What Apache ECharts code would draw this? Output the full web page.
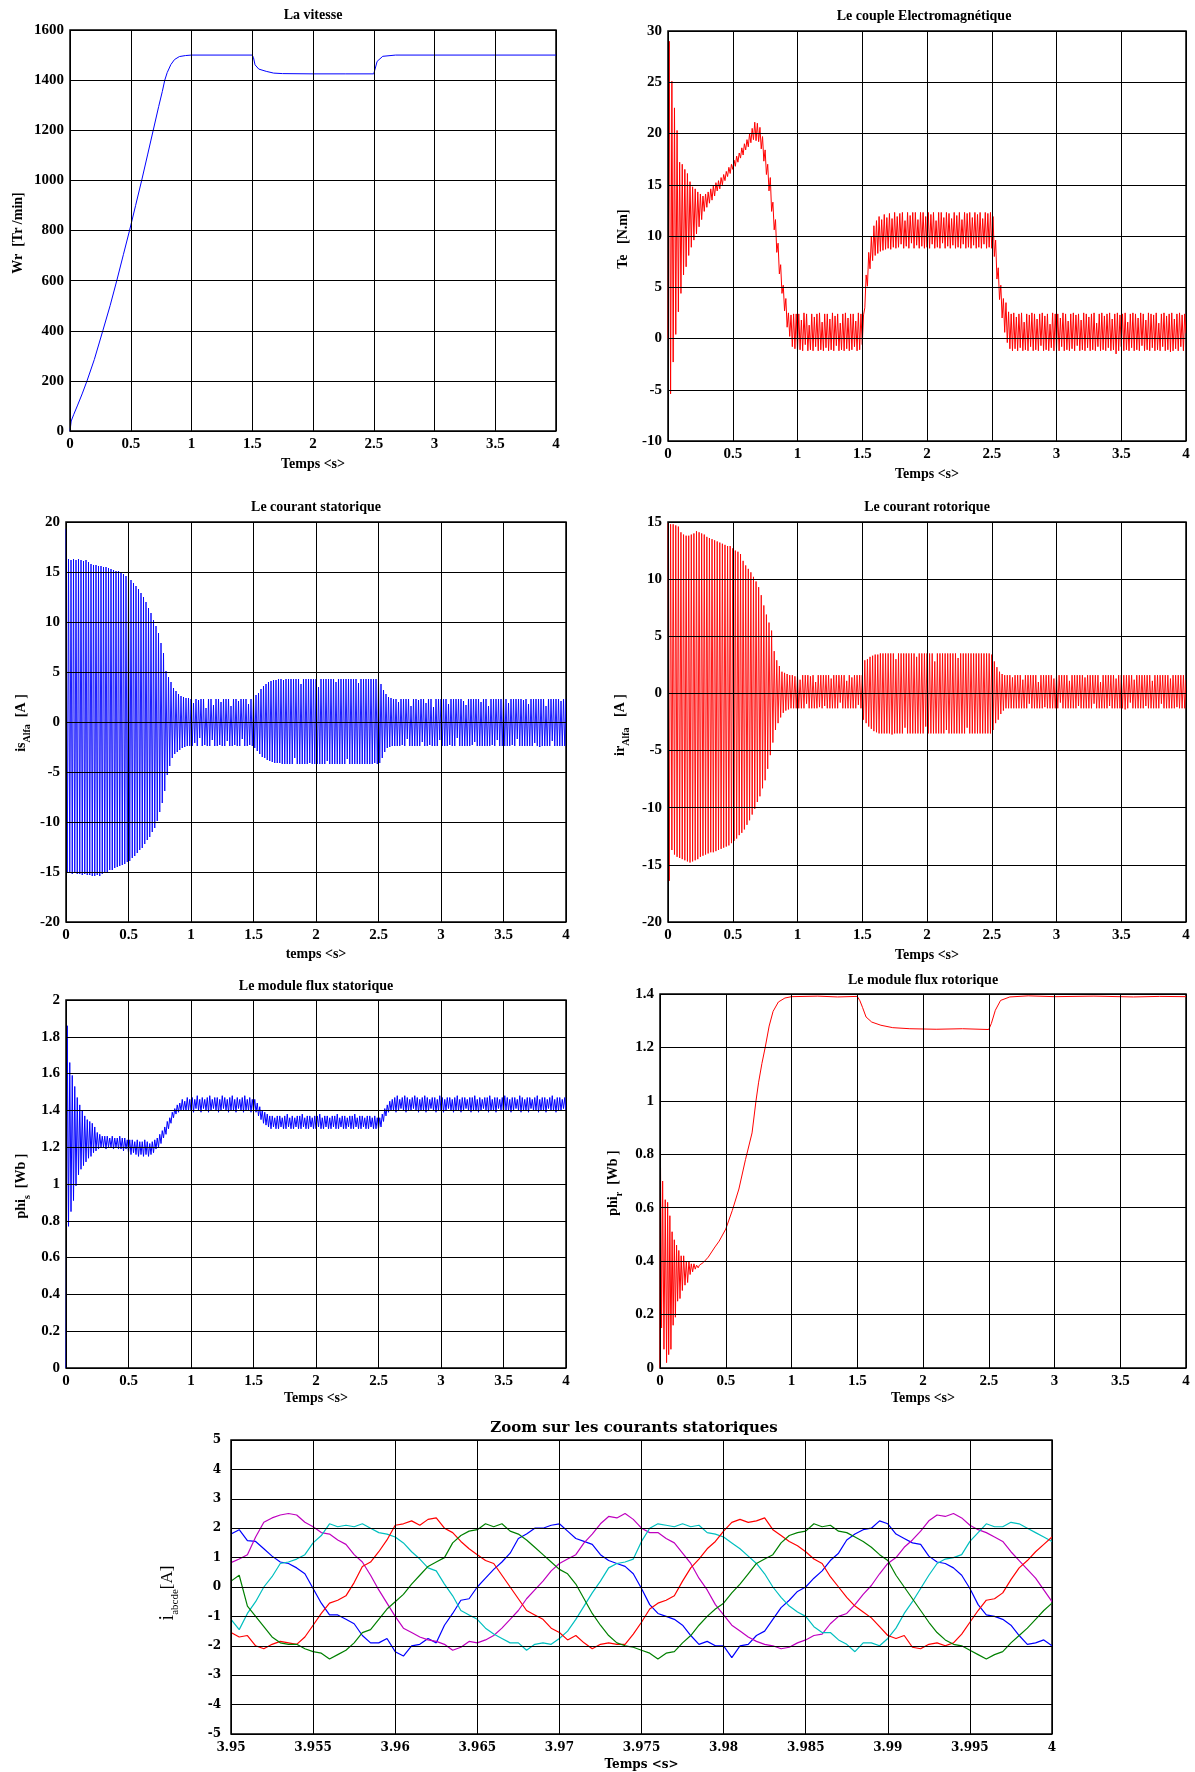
<!DOCTYPE html>
<html><head><meta charset="utf-8">
<script src="https://cdn.jsdelivr.net/npm/echarts/dist/echarts.min.js"></script>
<style>html,body{margin:0;padding:0;background:#fff}#c{width:1195px;height:1772px}</style>
</head><body><div id="c"></div>
<script>
// ---------- DATA ----------
// Speed (Tr/min)
const speedT = [0,0.01,0.03,0.06,0.1,0.14,0.2,0.27,0.33,0.385,0.44,0.49,0.54,0.59,0.64,0.685,0.73,0.76,0.78,0.8,0.83,0.86,0.9,0.95,1.0,1.5,1.51,1.523,1.554,1.615,1.676,1.75,2.0,2.27,2.5,2.505,2.528,2.574,2.68,4.0];
const speedV = [0,40,65,100,148,200,285,400,500,600,705,800,900,1000,1105,1200,1295,1355,1400,1430,1462,1482,1494,1498,1500,1500,1490,1461,1444,1435,1428,1426,1425,1425,1425,1432,1475,1495,1500,1500];

// Sample step of the oscillating traces (s)
const stepOsc = 0.01;

// Electromagnetic torque Te (N.m), alternate low/high peaks every 0.01 s from t=0
const torque = [
0,29.0,-5.4,25.1,-2.3,22.5,0.4,20.3,2.6,17.2,
4.4,17.0,6.2,16.5,7.0,16.1,8.1,15.3,8.9,14.8,
9.6,14.6,10.2,14.3,10.9,14.1,11.6,13.9,12.4,14.1,
12.8,14.3,13.2,14.6,13.5,14.9,13.9,15.2,14.4,15.4,
14.6,15.7,15.0,16.0,15.4,16.3,15.8,16.7,16.1,17.0,
16.5,17.4,16.8,17.8,17.2,18.1,17.6,18.6,17.9,19.0,
18.4,19.4,18.7,20.0,19.1,20.5,19.4,21.1,19.3,21.0,
19.2,20.6,18.5,19.7,17.3,18.4,16.0,17.0,14.4,15.7,
12.4,13.3,10.6,11.6,8.4,9.3,6.3,7.2,4.4,5.2,
2.7,3.9,1.1,2.5,0.2,2.3,-0.8,2.4,-1.0,2.4,
-1.2,2.4,-1.1,1.8,-1.2,2.5,-0.6,2.4,-1.2,1.3,
-1.1,2.4,-1.2,2.1,-0.8,2.4,-1.2,2.5,-1.1,1.6,
-1.2,2.4,-0.9,2.4,-1.2,1.9,-1.1,2.5,-1.2,2.2,
-0.7,2.4,-1.2,1.5,-1.1,2.4,-1.2,2.5,-1.0,2.0,
-1.2,2.4,-1.1,2.4,-0.8,1.7,-1.2,2.5,-1.1,2.4,
-0.6,2.3,3.0,6.2,5.1,8.4,6.8,9.9,7.6,11.0,
8.1,11.5,8.3,11.9,8.5,11.6,8.6,12.1,8.7,11.8,
8.8,12.2,8.7,11.7,8.9,12.3,8.8,11.9,8.9,12.2,
9.2,12.3,8.8,11.5,9.0,12.3,8.8,12.0,9.3,12.3,
8.8,12.3,9.1,11.6,8.8,12.3,9.0,12.3,8.8,11.9,
8.9,12.3,8.8,12.1,9.2,12.3,8.8,11.5,8.9,12.3,
8.8,12.3,9.3,11.8,8.8,12.3,9.0,12.2,8.8,11.7,
9.1,12.3,8.8,12.0,8.9,12.3,8.8,11.6,9.2,12.3,
8.8,12.2,8.9,12.3,8.8,11.8,9.1,12.3,8.8,12.1,
8.9,12.3,8.8,11.7,9.2,12.3,8.8,12.2,8.9,12.3,
8.8,11.9,8.0,9.6,5.8,6.9,3.8,5.2,2.0,3.9,
0.6,3.5,-0.4,2.6,-1.0,2.4,-1.2,2.5,-1.0,2.1,
-1.2,2.4,-0.9,2.5,-1.2,1.6,-1.1,2.4,-1.2,2.3,
-0.8,2.5,-1.2,2.4,-1.1,1.9,-1.2,2.4,-0.7,2.5,
-1.2,2.2,-1.1,2.4,-1.2,1.4,-0.9,2.5,-1.2,2.4,
-1.1,2.4,-1.2,2.0,-0.8,2.5,-1.2,2.4,-1.1,1.7,
-1.2,2.4,-1.0,2.5,-1.2,2.3,-0.7,2.4,-1.2,1.8,
-1.1,2.5,-1.2,2.4,-0.9,2.1,-1.2,2.4,-1.1,2.5,
-1.2,1.5,-0.8,2.4,-1.2,2.5,-1.1,2.2,-1.2,2.4,
-0.9,2.5,-1.2,1.9,-1.1,2.4,-1.5,2.5,-1.2,2.3,
-0.8,2.4,-1.2,2.5,-1.1,1.6,-1.2,2.4,-0.9,2.5,
-1.2,2.4,-1.1,2.0,-1.2,2.5,-0.7,2.4,-1.2,1.8,
-1.1,2.5,-1.2,2.4,-0.9,2.3,-1.2,2.5,-1.1,1.5,
-1.2,2.4,-0.8,2.5,-1.2,2.2,-1.1,2.4,-1.3,2.5,
-1.2,1.9,-1.0,2.4,-1.2,2.5,-0.8,2.3,-1.2,2.4,
0.5];

// Stator current isAlfa (A), alternate +/- peaks every 0.01 s
const isAlfa = [
19.3,-15.1,16.3,-15.1,16.2,-15.2,16.3,-15.1,16.2,-15.2,
16.3,-15.2,16.2,-15.3,16.1,-15.2,16.2,-15.3,16.0,-15.3,
15.8,-15.4,15.7,-15.4,15.7,-15.3,15.6,-15.4,15.6,-15.2,
15.5,-15.0,15.5,-15.0,15.4,-14.8,15.3,-14.8,15.2,-14.6,
15.1,-14.5,15.1,-14.4,15.0,-14.3,14.8,-14.2,14.6,-14.0,
14.4,-13.9,14.2,-13.6,13.9,-13.4,13.6,-13.1,13.3,-12.8,
12.9,-12.6,12.5,-12.2,12.0,-11.8,11.4,-11.5,10.9,-11.0,
10.2,-10.6,9.6,-9.9,8.9,-9.0,7.9,-8.1,6.9,-6.9,
5.1,-5.3,4.5,-4.4,4.0,-3.6,3.4,-3.2,3.1,-3.0,
2.8,-2.8,2.6,-2.6,2.5,-2.5,2.4,-2.4,2.4,-2.4,
2.3,-2.4,1.9,-2.1,2.3,-2.4,2.2,-1.6,2.3,-2.4,
2.3,-2.3,1.4,-2.4,2.3,-2.4,2.3,-1.8,1.7,-2.4,
2.3,-2.4,2.3,-2.3,2.0,-2.4,2.3,-2.4,2.3,-1.9,
2.3,-2.4,1.6,-2.4,2.3,-2.3,2.3,-2.4,2.1,-2.4,
2.3,-1.7,2.3,-2.4,2.3,-2.4,1.8,-2.3,2.3,-2.4,
2.4,-2.6,2.7,-2.9,2.9,-3.2,3.3,-3.5,3.6,-3.6,
3.8,-3.8,4.0,-3.9,4.1,-4.0,4.2,-4.1,4.2,-4.1,
4.3,-4.1,4.3,-4.2,4.2,-4.2,4.3,-4.2,4.3,-4.2,
4.3,-4.2,4.3,-3.6,4.3,-4.2,4.3,-4.2,3.8,-4.2,
4.3,-4.2,4.3,-4.2,4.3,-4.1,4.3,-4.2,4.3,-4.2,
4.3,-4.2,3.5,-4.2,4.3,-4.2,4.3,-4.2,4.3,-3.9,
4.3,-4.2,4.3,-4.2,4.3,-4.2,4.0,-4.2,4.3,-4.2,
4.3,-4.2,4.3,-4.2,4.3,-3.7,4.3,-4.2,4.3,-4.2,
4.3,-4.2,4.3,-4.2,3.9,-4.2,4.3,-4.2,4.3,-4.2,
4.3,-4.2,4.3,-4.2,4.3,-4.2,4.3,-4.1,4.3,-4.2,
4.3,-4.1,3.8,-3.6,3.2,-3.0,2.8,-2.6,2.5,-2.5,
2.4,-2.4,2.3,-2.4,2.3,-2.4,2.0,-2.4,2.3,-2.3,
2.3,-2.4,2.3,-1.7,2.3,-2.4,1.6,-2.4,2.3,-2.4,
2.3,-2.4,2.2,-2.4,2.3,-2.0,2.3,-2.4,1.9,-2.4,
2.3,-2.3,2.3,-2.4,1.5,-2.4,2.3,-2.4,2.3,-1.8,
2.3,-2.4,2.3,-2.4,2.3,-2.4,1.8,-2.3,2.3,-2.4,
2.3,-2.4,2.3,-1.6,2.3,-2.4,2.3,-2.4,2.1,-2.4,
1.7,-2.4,2.3,-2.4,2.3,-2.3,2.3,-2.0,2.3,-2.4,
2.3,-2.4,2.0,-2.4,2.3,-2.4,2.3,-2.4,1.6,-2.4,
2.3,-2.3,2.3,-2.4,2.3,-1.8,2.3,-2.4,2.3,-2.4,
2.5,-2.4,2.3,-2.4,1.9,-2.4,2.3,-2.3,2.3,-2.4,
2.3,-1.7,2.3,-2.4,2.3,-2.4,2.2,-2.4,2.3,-2.4,
1.8,-2.4,2.3,-2.4,2.3,-2.1,2.3,-2.4,2.3,-2.5,
2.3,-2.4,2.3,-2.4,1.6,-2.4,2.3,-2.4,2.3,-1.9,
2.3,-2.4,2.3,-2.4,2.3,-2.4,2.1,-2.4,2.3,-2.4,
2.3];

// Rotor current irAlfa (A), alternate +/- peaks every 0.01 s
const irAlfa = [
14.9,-16.4,14.8,-13.7,14.8,-14.1,14.7,-14.3,14.6,-14.4,
14.1,-14.5,13.9,-14.6,13.8,-14.7,13.8,-14.8,13.9,-14.7,
14.0,-14.6,14.2,-14.5,14.1,-14.3,14.0,-14.2,13.9,-14.1,
13.7,-14.0,13.6,-13.9,13.5,-13.9,13.4,-13.8,13.3,-13.7,
13.2,-13.6,13.1,-13.5,13.0,-13.4,12.9,-13.3,12.9,-13.1,
12.7,-12.9,12.5,-12.7,12.4,-12.4,12.2,-12.2,11.6,-11.9,
11.2,-11.5,10.9,-11.1,10.6,-10.6,10.2,-10.1,9.8,-9.5,
9.3,-9.0,8.6,-8.3,7.7,-7.6,6.9,-6.6,6.2,-5.4,
5.5,-4.3,3.7,-3.2,2.9,-2.6,2.4,-2.1,1.9,-1.7,
1.8,-1.5,1.7,-1.4,1.6,-1.3,1.6,-1.3,1.5,-1.3,
1.6,-1.3,1.2,-1.3,1.6,-1.3,1.6,-0.9,1.6,-1.3,
1.5,-1.3,1.6,-1.3,1.0,-1.3,1.6,-1.2,1.6,-1.3,
1.6,-1.1,1.6,-1.3,1.6,-1.3,1.3,-1.3,1.6,-1.3,
1.6,-1.3,1.6,-0.8,1.6,-1.3,1.6,-1.3,1.1,-1.3,
1.6,-1.3,1.4,-1.3,1.6,-1.3,1.6,-1.0,1.6,-1.3,
1.6,-2.3,2.9,-2.6,3.0,-2.9,3.2,-3.1,3.3,-3.3,
3.4,-3.4,3.4,-3.5,3.5,-3.5,3.5,-3.5,3.5,-3.5,
3.5,-3.5,3.5,-3.6,3.5,-3.5,3.0,-3.5,3.5,-3.5,
3.5,-3.5,3.5,-3.0,3.5,-3.5,3.5,-3.5,3.5,-3.5,
3.5,-3.5,3.2,-3.5,3.5,-3.5,3.5,-3.5,3.5,-2.9,
3.5,-3.5,3.5,-3.5,3.5,-3.5,2.8,-3.5,3.5,-3.5,
3.5,-3.5,3.5,-3.5,3.5,-3.2,3.5,-3.5,3.5,-3.5,
3.5,-3.5,3.5,-3.5,3.1,-3.5,3.5,-3.5,3.5,-3.5,
3.5,-3.0,3.5,-3.5,3.5,-3.5,3.5,-3.5,3.5,-3.5,
3.5,-3.5,3.5,-3.5,3.5,-3.5,3.5,-3.5,3.5,-3.5,
3.4,-3.2,2.8,-2.6,2.3,-2.3,1.9,-1.8,1.7,-1.5,
1.6,-1.3,1.6,-1.3,1.6,-1.3,1.4,-1.3,1.6,-1.3,
1.6,-1.3,1.6,-1.3,1.2,-1.3,1.6,-1.3,1.6,-0.9,
1.6,-1.3,1.6,-1.3,1.6,-1.3,1.0,-1.3,1.6,-1.3,
1.6,-1.2,1.6,-1.3,1.6,-1.3,1.6,-1.3,1.3,-1.3,
1.6,-1.3,1.6,-0.8,1.6,-1.3,1.6,-1.3,1.6,-1.3,
1.1,-1.3,1.6,-1.3,1.6,-1.3,1.6,-1.1,1.6,-1.3,
1.6,-1.3,1.4,-1.3,1.6,-1.3,1.6,-1.3,1.6,-0.9,
1.6,-1.3,1.6,-1.3,1.0,-1.3,1.6,-1.3,1.6,-1.3,
1.6,-1.1,1.6,-1.3,1.6,-1.3,1.3,-1.3,1.6,-1.3,
1.6,-1.3,1.6,-1.4,1.6,-1.3,1.6,-0.8,1.6,-1.3,
1.2,-1.3,1.6,-1.3,1.6,-1.3,1.6,-1.3,1.6,-1.1,
1.6,-1.3,1.6,-1.3,1.1,-1.3,1.6,-1.3,1.6,-1.3,
1.6,-0.9,1.6,-1.3,1.6,-1.3,1.6,-1.3,1.3,-1.3,
1.6,-1.3,1.6,-1.2,1.6,-1.3,1.6,-1.3,1.6,-1.3,
1.2];

// Stator flux module phi_s (Wb), alternate low/high every 0.01 s
const phiS = [
0,1.86,0.77,1.66,0.85,1.59,0.91,1.53,0.99,1.47,
1.05,1.43,1.08,1.40,1.10,1.37,1.12,1.35,1.14,1.34,
1.15,1.33,1.17,1.31,1.18,1.28,1.19,1.27,1.20,1.26,
1.20,1.26,1.19,1.26,1.20,1.25,1.20,1.26,1.19,1.25,
1.20,1.25,1.19,1.26,1.19,1.25,1.18,1.25,1.19,1.24,
1.17,1.24,1.16,1.24,1.17,1.23,1.16,1.24,1.15,1.23,
1.16,1.23,1.15,1.24,1.16,1.23,1.15,1.22,1.16,1.23,
1.17,1.24,1.19,1.25,1.20,1.27,1.22,1.29,1.25,1.31,
1.27,1.34,1.30,1.36,1.33,1.39,1.36,1.41,1.38,1.43,
1.39,1.44,1.40,1.46,1.40,1.45,1.40,1.47,1.40,1.46,
1.40,1.47,1.39,1.46,1.41,1.48,1.40,1.46,1.39,1.47,
1.41,1.46,1.40,1.47,1.39,1.48,1.40,1.46,1.41,1.47,
1.40,1.47,1.39,1.46,1.40,1.48,1.41,1.47,1.40,1.46,
1.39,1.47,1.40,1.48,1.40,1.46,1.39,1.47,1.41,1.46,
1.40,1.47,1.39,1.48,1.40,1.46,1.40,1.47,1.39,1.46,
1.40,1.46,1.39,1.44,1.37,1.42,1.35,1.40,1.33,1.39,
1.32,1.38,1.31,1.37,1.30,1.37,1.31,1.36,1.30,1.37,
1.30,1.37,1.31,1.36,1.30,1.37,1.30,1.38,1.31,1.36,
1.30,1.37,1.30,1.36,1.31,1.37,1.30,1.37,1.30,1.38,
1.31,1.36,1.30,1.37,1.30,1.37,1.31,1.36,1.30,1.37,
1.30,1.37,1.31,1.38,1.30,1.36,1.30,1.37,1.31,1.37,
1.30,1.36,1.30,1.37,1.31,1.37,1.30,1.38,1.30,1.36,
1.31,1.37,1.30,1.37,1.30,1.36,1.31,1.37,1.30,1.37,
1.30,1.38,1.31,1.36,1.30,1.37,1.30,1.37,1.31,1.36,
1.30,1.37,1.30,1.37,1.31,1.36,1.30,1.37,1.30,1.36,
1.30,1.36,1.31,1.38,1.34,1.41,1.37,1.43,1.39,1.45,
1.40,1.46,1.40,1.47,1.39,1.48,1.40,1.46,1.41,1.47,
1.40,1.48,1.39,1.47,1.40,1.46,1.40,1.47,1.41,1.48,
1.40,1.47,1.39,1.46,1.40,1.47,1.40,1.48,1.39,1.47,
1.40,1.46,1.41,1.47,1.40,1.47,1.39,1.46,1.40,1.48,
1.40,1.47,1.39,1.46,1.40,1.47,1.41,1.47,1.40,1.46,
1.39,1.47,1.40,1.48,1.40,1.46,1.39,1.47,1.40,1.47,
1.41,1.46,1.40,1.47,1.39,1.47,1.40,1.48,1.40,1.46,
1.39,1.47,1.40,1.46,1.41,1.47,1.40,1.47,1.39,1.48,
1.40,1.46,1.40,1.47,1.39,1.47,1.41,1.46,1.40,1.47,
1.39,1.48,1.40,1.47,1.40,1.46,1.39,1.47,1.40,1.47,
1.41,1.46,1.40,1.48,1.39,1.47,1.40,1.46,1.40,1.47,
1.39,1.47,1.41,1.46,1.40,1.47,1.40,1.48,1.39,1.46,
1.40,1.47,1.40,1.47,1.39,1.46,1.41,1.47,1.40,1.48,
1.40,1.46,1.39,1.47,1.40,1.47,1.40,1.46,1.41,1.47,
1.40];

// Rotor flux module phi_r (Wb)
const phiRT = [0,0.004,0.012,0.02,0.03,0.04,0.05,0.058,0.066,0.075,0.083,0.092,0.1,0.109,0.117,0.126,0.134,0.143,0.152,0.161,0.17,0.18,0.19,0.2,0.21,0.22,0.229,0.238,0.248,0.258,0.268,0.278,0.29,0.3,0.33,0.367,0.418,0.45,0.5,0.55,0.6,0.65,0.7,0.73,0.75,0.775,0.8,0.83,0.86,0.9,0.95,1.0,1.2,1.35,1.5,1.52,1.54,1.567,1.61,1.68,1.77,1.9,2.1,2.3,2.5,2.52,2.55,2.59,2.66,2.8,3.0,3.3,3.6,3.8,4.0];
const phiRV = [0,0.75,0.15,0.70,0.07,0.63,0.02,0.62,0.05,0.57,0.07,0.51,0.16,0.48,0.19,0.46,0.25,0.44,0.26,0.42,0.29,0.42,0.31,0.40,0.32,0.40,0.35,0.39,0.36,0.39,0.37,0.385,0.375,0.385,0.395,0.415,0.453,0.475,0.52,0.59,0.67,0.78,0.88,1.0,1.07,1.14,1.2,1.28,1.335,1.37,1.385,1.39,1.392,1.389,1.391,1.375,1.35,1.314,1.295,1.283,1.274,1.270,1.268,1.270,1.267,1.29,1.339,1.376,1.389,1.393,1.390,1.392,1.389,1.391,1.390];

// Zoom on the five stator currents, every 0.5 ms from 3.95 s
const zoomT0 = 3.95, zoomStep = 0.0005;
const iA = [
1.8,1.95,1.58,1.55,1.3,1.05,0.85,0.8,0.65,0.45,
-0.05,-0.55,-0.95,-0.95,-1.1,-1.25,-1.65,-1.9,-1.9,-1.75,
-2.2,-2.35,-2.0,-1.95,-1.75,-1.9,-1.3,-0.9,-0.45,-0.4,
0.0,0.3,0.6,0.85,1.15,1.65,1.8,2.0,2.0,2.1,
2.15,1.9,1.65,1.55,1.45,1.1,0.9,0.8,0.7,0.45,
-0.05,-0.6,-0.9,-1.0,-1.1,-1.3,-1.65,-1.95,-1.85,-2.0,
-2.0,-2.4,-2.0,-1.95,-1.65,-1.5,-1.1,-0.7,-0.45,-0.15,
0.0,0.3,0.55,0.9,1.15,1.6,1.8,1.95,2.0,2.25,
2.15,1.8,1.65,1.5,1.45,1.05,0.85,0.8,0.65,0.4,
-0.05,-0.6,-0.95,-1.0,-1.1,-1.3,-1.65,-1.95,-1.9,-1.8,
-2.0];
const iB = [
0.83,0.95,1.1,1.7,2.2,2.35,2.45,2.5,2.45,2.2,
2.05,1.85,1.8,1.6,1.45,1.1,0.85,0.4,-0.1,-0.55,
-1.0,-1.4,-1.55,-1.7,-1.8,-1.85,-1.95,-2.15,-2.05,-1.85,
-1.9,-1.8,-1.65,-1.4,-1.1,-0.8,-0.4,-0.1,0.2,0.55,
0.8,0.95,1.1,1.5,1.8,2.15,2.4,2.35,2.5,2.3,
2.0,1.85,1.85,1.65,1.5,1.15,0.8,0.3,-0.1,-0.6,
-0.95,-1.3,-1.5,-1.7,-1.85,-1.95,-2.0,-2.1,-2.05,-1.9,
-1.8,-1.65,-1.6,-1.25,-1.0,-0.9,-0.6,-0.25,0.05,0.45,
0.8,1.0,1.35,1.6,1.9,2.25,2.45,2.4,2.5,2.35,
2.1,1.95,1.85,1.7,1.55,1.2,0.9,0.6,0.3,-0.1,
-0.5];
const iC = [
-1.1,-1.45,-0.9,-0.5,0.0,0.35,0.8,0.85,0.95,1.1,
1.5,1.75,2.15,2.05,2.1,2.05,2.15,2.0,1.85,1.8,
1.7,1.5,1.2,0.95,0.65,0.55,0.1,-0.3,-0.8,-0.95,
-1.1,-1.4,-1.6,-1.75,-1.9,-1.9,-2.15,-1.95,-1.9,-1.95,
-1.75,-1.5,-1.1,-0.65,-0.2,0.2,0.65,0.8,0.85,0.95,
1.55,2.0,2.15,2.1,2.05,2.15,2.05,2.1,1.85,1.8,
1.7,1.5,1.3,1.05,0.8,0.45,0.0,-0.35,-0.65,-0.85,
-1.0,-1.35,-1.55,-1.55,-1.8,-1.95,-2.2,-1.9,-1.9,-2.0,
-1.75,-1.4,-0.9,-0.5,-0.05,0.4,0.8,0.95,1.0,1.1,
1.55,1.85,2.15,2.05,2.05,2.2,2.15,2.0,1.85,1.7,
1.55];
const iD = [
-1.55,-1.7,-1.65,-2.0,-2.1,-1.95,-1.85,-1.9,-1.95,-1.7,
-1.3,-0.9,-0.55,-0.45,-0.3,0.15,0.7,0.85,1.2,1.6,
2.1,2.15,2.25,2.1,2.3,2.35,2.0,1.85,1.55,1.3,
1.1,0.9,0.8,0.4,0.0,-0.4,-0.8,-0.95,-1.1,-1.4,
-1.55,-1.8,-1.65,-1.9,-2.1,-1.95,-1.9,-1.95,-1.95,-1.6,
-1.2,-0.75,-0.55,-0.45,-0.3,0.2,0.65,0.95,1.3,1.55,
1.9,2.2,2.3,2.2,2.25,2.35,1.95,1.75,1.55,1.4,
1.2,0.95,0.8,0.35,0.0,-0.35,-0.65,-0.85,-1.05,-1.35,
-1.65,-1.75,-1.65,-2.05,-2.1,-1.95,-1.9,-2.0,-1.9,-1.6,
-1.2,-0.8,-0.45,-0.4,-0.2,0.25,0.65,0.9,1.2,1.45,
1.7];
const iE = [
0.2,0.4,-0.65,-1.0,-1.35,-1.7,-1.9,-1.95,-1.95,-2.1,
-2.2,-2.25,-2.45,-2.3,-2.15,-1.9,-1.55,-1.45,-1.1,-0.75,
-0.5,-0.25,0.1,0.4,0.7,0.85,1.0,1.5,1.75,1.9,
1.95,2.15,2.05,2.15,1.9,1.8,1.6,1.35,1.1,0.85,
0.6,0.45,0.1,-0.4,-0.9,-1.3,-1.65,-1.9,-2.0,-2.05,
-2.15,-2.25,-2.45,-2.25,-2.2,-1.9,-1.65,-1.3,-1.0,-0.75,
-0.55,-0.2,0.1,0.45,0.8,0.95,1.1,1.5,1.75,1.85,
1.9,2.15,2.05,2.1,1.9,1.85,1.7,1.55,1.35,1.1,
0.9,0.4,0.0,-0.4,-0.8,-1.2,-1.55,-1.8,-1.95,-2.0,
-2.15,-2.3,-2.45,-2.3,-2.2,-1.9,-1.65,-1.4,-1.1,-0.8,
-0.55];

// Text
const titles = ['La vitesse','Le couple Electromagnétique','Le courant statorique','Le courant rotorique','Le module flux statorique','Le module flux rotorique','Zoom sur les courants statoriques'];
const xNames = ['Temps <s>','Temps <s>','temps <s>','Temps <s>','Temps <s>','Temps <s>','Temps <s>'];

// ---------- BUILD ----------
const uni = (arr, t0, st) => arr.map((v, i) => [+(t0 + i * st).toFixed(5), v]);
const zip = (t, v) => t.map((x, i) => [x, v[i]]);

const FS = '"Liberation Serif","Times New Roman",serif';
const FZ = '"DejaVu Serif",serif';
const lab = {fontFamily: FS, fontWeight: 'bold', fontSize: 15, color: '#000'};
const nameLab = {fontFamily: FS, fontWeight: 'bold', fontSize: 14, color: '#000'};
const labZ = {fontFamily: FZ, fontWeight: 'bold', fontSize: 12, color: '#000'};
const fmt = v => String(+(+v).toFixed(3));

const gridsPx = [
  {left: 70, top: 30, width: 486, height: 401},
  {left: 668, top: 31, width: 518, height: 410},
  {left: 66, top: 522, width: 500, height: 400},
  {left: 668, top: 522, width: 518, height: 400},
  {left: 66, top: 1000, width: 500, height: 368},
  {left: 660, top: 994, width: 526, height: 374},
  {left: 231, top: 1440, width: 821, height: 300}
];
const yRanges = [[0,1600,200],[-10,30,5],[-20,20,5],[-20,15,5],[0,2,0.2],[0,1.4,0.2],[-5,5,1]];
const nameGaps = [26, 26, 25, 26, 23, 23, 25];

const grid = gridsPx.map(g => Object.assign({show: true, borderColor: '#000', borderWidth: 1.5, backgroundColor: '#fff'}, g));
const split = {show: true, lineStyle: {color: '#000', width: 1}};
const xAxis = gridsPx.map((g, i) => {
  const z = i === 6;
  return {
    gridIndex: i, type: 'value',
    min: z ? 3.95 : 0, max: 4, interval: z ? 0.005 : 0.5,
    name: xNames[i], nameLocation: 'middle', nameGap: nameGaps[i],
    nameTextStyle: Object.assign({}, z ? labZ : nameLab),
    axisLine: {show: false}, axisTick: {show: false},
    axisLabel: Object.assign({margin: z ? 8 : 6, formatter: fmt}, z ? labZ : lab),
    splitLine: split, z: 3
  };
});
const yAxis = gridsPx.map((g, i) => {
  const z = i === 6, r = yRanges[i];
  return {
    gridIndex: i, type: 'value', min: r[0], max: r[1], interval: r[2],
    axisLine: {show: false}, axisTick: {show: false},
    axisLabel: Object.assign({margin: z ? 10 : 6, formatter: fmt}, z ? labZ : lab),
    splitLine: split, z: 3
  };
});

const BLUE = '#0000ff', RED = '#ff0000';
const mk = (i, data, color, w) => ({
  type: 'line', xAxisIndex: i, yAxisIndex: i, data: data, showSymbol: false, symbol: 'none',
  lineStyle: {color: color, width: w || 1}, itemStyle: {color: color}, animation: false,
  clip: true, z: 2, silent: true
});
const series = [
  mk(0, zip(speedT, speedV), BLUE),
  mk(1, uni(torque, 0, stepOsc), RED),
  mk(2, uni(isAlfa, 0, stepOsc), BLUE, 0.9),
  mk(3, uni(irAlfa, 0, stepOsc), RED, 0.9),
  mk(4, uni(phiS, 0, stepOsc), BLUE),
  mk(5, zip(phiRT, phiRV), RED),
  mk(6, uni(iA, zoomT0, zoomStep), '#0000ff', 1.2),
  mk(6, uni(iB, zoomT0, zoomStep), '#bf00bf', 1.2),
  mk(6, uni(iC, zoomT0, zoomStep), '#00bfbf', 1.2),
  mk(6, uni(iD, zoomT0, zoomStep), '#ff0000', 1.2),
  mk(6, uni(iE, zoomT0, zoomStep), '#008000', 1.2)
];

const tfont = 'bold 14px ' + FS;
const titlePos = [[313,15],[924,16],[316,507],[927,507],[316,986],[923,980],[634,1428]];
const graphic = titlePos.map((p, i) => ({
  type: 'text', x: p[0], y: p[1], z: 10,
  style: {text: titles[i], font: i === 6 ? 'bold 15px ' + FZ : tfont, fill: '#000', align: 'center', verticalAlign: 'middle', textAlign: 'center', textVerticalAlign: 'middle'}
}));
const rm = {fontFamily: FS, fontWeight: 'bold', fontSize: 14, color: '#000'};
const rs = {fontFamily: FS, fontWeight: 'bold', fontSize: 10, color: '#000', padding: [12, 0, 0, 0]};
const yLab = [
  {x: 18, y: 233, text: '{m|Wr  [Tr /min]}'},
  {x: 623, y: 239, text: '{m|Te   [N.m]}'},
  {x: 21, y: 723, text: '{m|is}{s|Alfa}{m|  [A ]}'},
  {x: 620, y: 725, text: '{m|ir}{s|Alfa}{m|   [A ]}'},
  {x: 21, y: 1186, text: '{m|phi}{s|s}{m|  [Wb ]}'},
  {x: 613, y: 1183, text: '{m|phi}{s|r}{m|  [Wb ]}'},
  {x: 168, y: 1593, text: '{i|i}{z|abcde}{a|[A]}'}
];
yLab.forEach(l => graphic.push({
  type: 'text', x: l.x, y: l.y, rotation: Math.PI / 2, z: 10,
  style: {
    text: l.text, align: 'center', verticalAlign: 'middle', textAlign: 'center', textVerticalAlign: 'middle',
    rich: {
      m: rm, s: rs,
      i: {fontFamily: FS, fontSize: 20, color: '#000'},
      z: {fontFamily: FS, fontSize: 11, color: '#000', padding: [14, 0, 0, 0]},
      a: {fontFamily: FS, fontSize: 17, color: '#000'}
    }
  }
}));

const chart = echarts.init(document.getElementById('c'), null, {renderer: 'canvas'});
chart.setOption({
  animation: false, backgroundColor: '#fff',
  grid: grid, xAxis: xAxis, yAxis: yAxis, series: series, graphic: graphic
});
</script></body></html>
